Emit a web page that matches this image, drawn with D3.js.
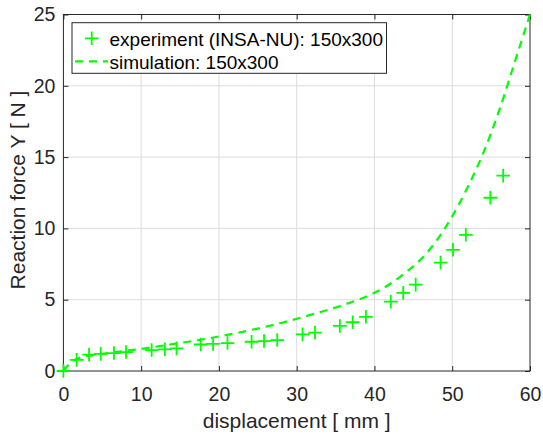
<!DOCTYPE html>
<html>
<head>
<meta charset="utf-8">
<script src="https://cdn.jsdelivr.net/npm/d3@7"></script>
<style>
  body { margin: 0; background: #fff; }
  svg { display: block; font-family: "Liberation Sans", Arial, sans-serif; }
</style>
</head>
<body>
<div id="chart"></div>
<script>
// experiment (INSA-NU) points
const expX = [0, 1.7, 3.3, 4.8, 6.5, 8.05, 11.35, 13.05, 14.55, 17.65, 19.25, 21.1,
  24.2, 25.8, 27.5, 30.75, 32.35, 35.55, 37.2, 38.9, 42.1, 43.7, 45.3, 48.5, 50.1,
  51.75, 54.9, 56.55];
const expY = [0, 0.78, 1.15, 1.2, 1.26, 1.33, 1.47, 1.52, 1.59, 1.86, 1.9, 1.96,
  2.05, 2.1, 2.17, 2.57, 2.69, 3.16, 3.42, 3.8, 4.86, 5.48, 6.06, 7.6, 8.5,
  9.55, 12.15, 13.7];

// simulation curve
const simX = [0, 1, 2, 4, 6, 8, 10, 13, 16, 20, 24, 28, 32, 36, 40, 42, 44, 46, 48,
  50, 52, 54, 56, 58, 60];
const simY = [0, 0.62, 0.9, 1.12, 1.27, 1.41, 1.55, 1.8, 2.05, 2.42, 2.86, 3.37,
  3.97, 4.63, 5.48, 6.1, 6.9, 7.85, 9.15, 10.85, 12.9, 15.3, 18.2, 21.6, 25];

const xTicks = [0, 10, 20, 30, 40, 50, 60];
const yTicks = [0, 5, 10, 15, 20, 25];
const legendLabels = ["experiment (INSA-NU): 150x300", "simulation: 150x300"];

const width = 543, height = 439;
const margin = { top: 14.5, right: 13, bottom: 68, left: 63.4 };
const green = "#00ff00";
const axisColor = "#262626";

const svg = d3.select("#chart").append("svg")
  .attr("width", width).attr("height", height);

const x = d3.scaleLinear().domain([0, 60]).range([margin.left, width - margin.right]);
const y = d3.scaleLinear().domain([0, 25]).range([height - margin.bottom, margin.top]);

const x0 = x.range()[0], x1 = x.range()[1];
const y0 = y.range()[0], y1 = y.range()[1];

// grid
const grid = svg.append("g").attr("stroke", "#dcdcdc").attr("stroke-width", 1);
grid.selectAll(".gx").data(xTicks.slice(1, -1)).join("line")
  .attr("x1", d => x(d)).attr("x2", d => x(d)).attr("y1", y0).attr("y2", y1);
grid.selectAll(".gy").data(yTicks.slice(1, -1)).join("line")
  .attr("y1", d => y(d)).attr("y2", d => y(d)).attr("x1", x0).attr("x2", x1);

// axes (ticks point inward)
const tickLen = 5;
svg.append("g").attr("transform", `translate(0,${y0})`)
  .call(d3.axisBottom(x).tickValues(xTicks).tickSize(-tickLen).tickPadding(16))
  .call(g => g.select(".domain").remove());
svg.append("g").attr("transform", `translate(0,${y1})`)
  .call(d3.axisTop(x).tickValues(xTicks).tickSize(-tickLen).tickFormat(""))
  .call(g => g.select(".domain").remove());
svg.append("g").attr("transform", `translate(${x0},0)`)
  .call(d3.axisLeft(y).tickValues(yTicks).tickSize(-tickLen).tickPadding(8))
  .call(g => g.select(".domain").remove());
svg.append("g").attr("transform", `translate(${x1},0)`)
  .call(d3.axisRight(y).tickValues(yTicks).tickSize(-tickLen).tickFormat(""))
  .call(g => g.select(".domain").remove());

svg.selectAll(".tick line").attr("stroke", axisColor);
svg.selectAll(".tick text")
  .attr("fill", axisColor)
  .style("font-size", "19.5px");

// frame
svg.append("rect")
  .attr("x", x0).attr("y", y1)
  .attr("width", x1 - x0).attr("height", y0 - y1)
  .attr("fill", "none").attr("stroke", axisColor).attr("stroke-width", 1);

// simulation line
const simData = simX.map((v, i) => [v, simY[i]]);
svg.append("path")
  .datum(simData)
  .attr("fill", "none")
  .attr("stroke", green)
  .attr("stroke-width", 2.2)
  .attr("stroke-dasharray", "8,6")
  .attr("d", d3.line().x(d => x(d[0])).y(d => y(d[1])).curve(d3.curveMonotoneX));

// experiment markers
const ms = 6.8;
const expData = expX.map((v, i) => [v, expY[i]]);
svg.append("g").selectAll("path").data(expData).join("path")
  .attr("d", `M${-ms},0H${ms}M0,${-ms}V${ms}`)
  .attr("transform", d => `translate(${x(d[0])},${y(d[1])})`)
  .attr("stroke", green).attr("stroke-width", 1.8).attr("fill", "none");

// axis labels
svg.append("text")
  .attr("x", (x0 + x1) / 2).attr("y", 427.5)
  .attr("text-anchor", "middle")
  .attr("fill", axisColor)
  .style("font-size", "21px")
  .text("displacement [ mm ]");
svg.append("text")
  .attr("transform", `translate(25,190) rotate(-90)`)
  .attr("text-anchor", "middle")
  .attr("fill", axisColor)
  .style("font-size", "21px")
  .text("Reaction force Y [ N ]");

// legend
const lg = svg.append("g").attr("transform", "translate(72,22.7)");
lg.append("rect")
  .attr("width", 314.5).attr("height", 50.6)
  .attr("fill", "#fff").attr("stroke", axisColor).attr("stroke-width", 1);
lg.append("path")
  .attr("d", `M${19.7 - ms},15.6H${19.7 + ms}M19.7,${15.6 - ms}V${15.6 + ms}`)
  .attr("stroke", green).attr("stroke-width", 1.8);
lg.append("line")
  .attr("x1", 3).attr("x2", 36).attr("y1", 38.6).attr("y2", 38.6)
  .attr("stroke", green).attr("stroke-width", 2.2).attr("stroke-dasharray", "8,6");
lg.selectAll("text").data(legendLabels).join("text")
  .attr("x", 37.5)
  .attr("y", (d, i) => 16.5 + i * 22.7)
  .attr("dy", "0.35em")
  .attr("fill", "#000")
  .style("font-size", "19px")
  .text(d => d);
</script>
</body>
</html>
